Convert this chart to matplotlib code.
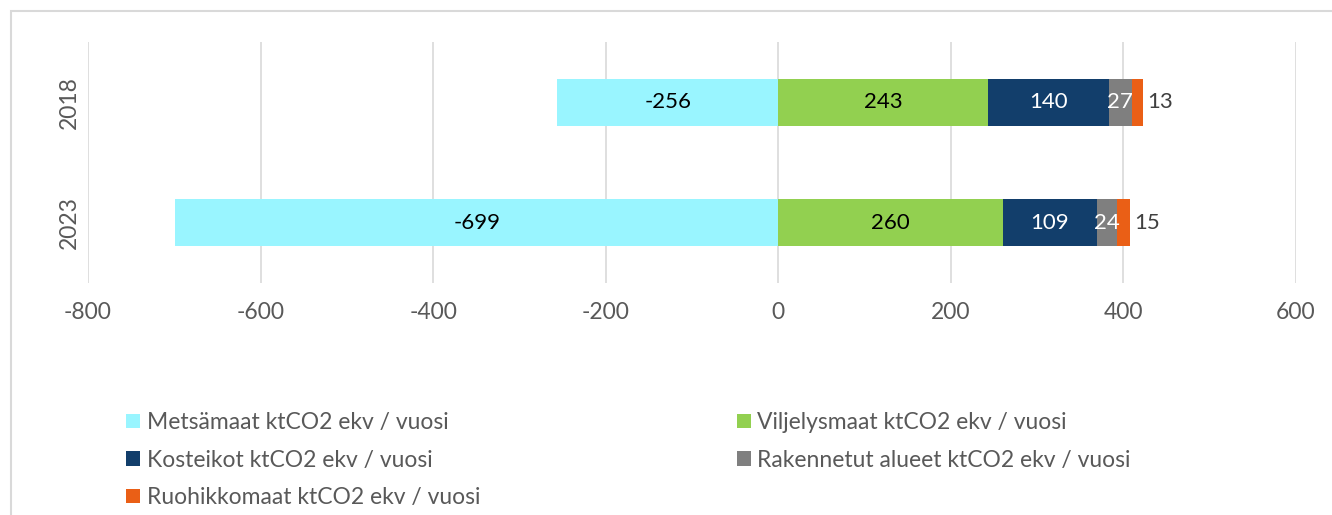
import matplotlib.pyplot as plt
from matplotlib.patches import Rectangle

plt.rcParams['font.family'] = ['Lato', 'DejaVu Sans']
plt.rcParams['axes.unicode_minus'] = False

years = ['2018', '2023']
metsamaat = [-256, -699]
viljelysmaat = [243, 260]
kosteikot = [140, 109]
rakennetut = [27, 24]
ruohikkomaat = [13, 15]

series = [
    ('Metsämaat ktCO2 ekv / vuosi', metsamaat, '#99F5FF', 'black'),
    ('Viljelysmaat ktCO2 ekv / vuosi', viljelysmaat, '#92D050', 'black'),
    ('Kosteikot ktCO2 ekv / vuosi', kosteikot, '#123E6B', 'white'),
    ('Rakennetut alueet ktCO2 ekv / vuosi', rakennetut, '#7F7F7F', 'white'),
    ('Ruohikkomaat ktCO2 ekv / vuosi', ruohikkomaat, '#EA5F16', '#404040'),
]

fig = plt.figure(figsize=(13.32, 5.15), dpi=100)
ax = fig.add_axes([88 / 1332, 1 - 283 / 515, (1296 - 88) / 1332, (283 - 42) / 515])

# light frame round the chart (right and bottom edges fall outside the picture)
fig.patches.append(Rectangle((11 / 1332, -0.05), 1.1, 1 - 11 / 515 + 0.05,
                             transform=fig.transFigure, fill=False,
                             edgecolor='#D9D9D9', linewidth=1.5))

ypos = list(range(len(years)))
bar_h = 0.39
handles = {}
pos_left = [0] * len(years)
for name, vals, color, tcolor in series:
    lefts = []
    for i, v in enumerate(vals):
        if v < 0:
            lefts.append(0)
        else:
            lefts.append(pos_left[i])
    bars = ax.barh(ypos, vals, left=lefts, height=bar_h, color=color, label=name)
    handles[name] = bars
    for i, v in enumerate(vals):
        if name.startswith('Ruohikkomaat'):
            ax.text(lefts[i] + v + 4, ypos[i], str(v), va='center', ha='left',
                    color=tcolor, fontsize=16)
        else:
            ax.text(lefts[i] + v / 2, ypos[i], str(v), va='center', ha='center',
                    color=tcolor, fontsize=16)
        if v > 0:
            pos_left[i] += v

ax.set_xlim(-800, 600)
ax.set_ylim(1.5, -0.5)
ax.set_xticks(range(-800, 601, 200))
ax.set_yticks(ypos)
ax.set_yticklabels(years, rotation=90, va='center')
ax.grid(axis='x', color='#D9D9D9', linewidth=1.2)
ax.set_axisbelow(True)
for s in ax.spines.values():
    s.set_visible(False)
ax.tick_params(axis='both', length=0, colors='#595959', labelsize=16.5)
ax.tick_params(axis='x', pad=14)
ax.tick_params(axis='y', pad=6)

order = [0, 2, 4, 1, 3]
names = [series[k][0] for k in order]
leg = fig.legend([handles[n] for n in names], names, loc='upper left',
                 bbox_to_anchor=(117 / 1332, 1 - 403 / 515), ncol=2, frameon=False,
                 fontsize=16.5, handlelength=0.6, handleheight=0.6, handletextpad=0.3,
                 columnspacing=11.2, labelspacing=0.72, labelcolor='#595959',
                 borderaxespad=0)

fig.savefig('out.png', dpi=100)
